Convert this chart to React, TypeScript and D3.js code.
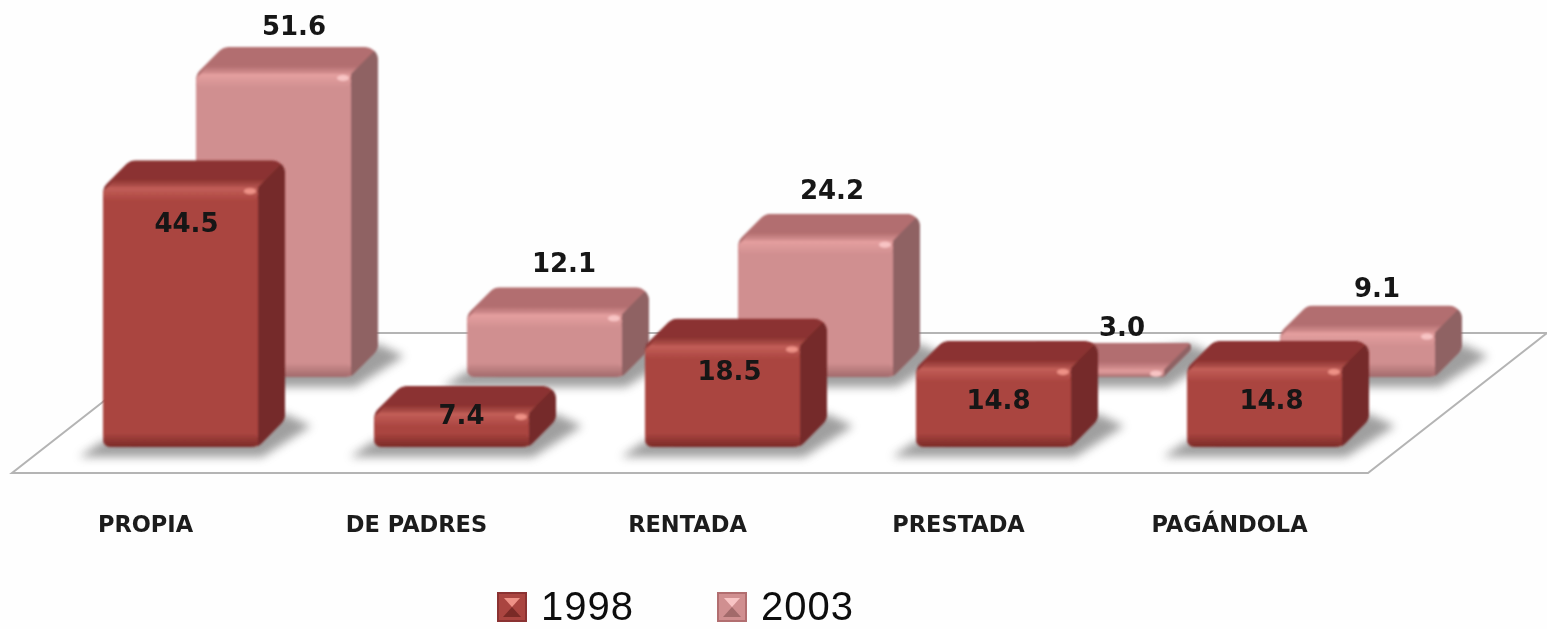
import React from 'react';
import * as d3 from 'd3';

// data
const categories = ['PROPIA', 'DE PADRES', 'RENTADA', 'PRESTADA', 'PAGÁNDOLA'];
const years = ['1998', '2003'];
const values1998 = [44.5, 7.4, 18.5, 14.8, 14.8];
const values2003 = [51.6, 12.1, 24.2, 3.0, 9.1];

// label nudges, the original places them by hand
const labelDx1998 = [6, 10, 7, 5, 7];
const labelDy1998 = [36, 2, 26, 32, 32];
const labelDx2003 = [7, 6, 3, 22, 6];
const labelDy2003 = [-21, -24, -24, -16, -18];

const W = 1547;
const H = 629;
const DEPTH = 27;
const BAR_W = 155;

const palette: Record<string, any> = {
  '1998': { front: '#aa4540', top: '#8b3330', side: '#742c2a', hi: '#c4605a', low: '#7a2a27', spec: '#ee9186' },
  '2003': { front: '#d08f90', top: '#b26e70', side: '#8f6263', hi: '#e6a0a0', low: '#a26a6b', spec: '#f8c4c4' },
};

const xScale = d3.scaleBand().domain(categories).range([45, 45 + 271 * 5]).paddingInner(0.428).paddingOuter(0.214);
const heightScale = d3.scaleLinear().domain([1.8, 51.6]).range([0, 303]);
const rowDx = d3.scaleOrdinal<string, number>().domain(years).range([0, 93]);
const rowBase = d3.scaleOrdinal<string, number>().domain(years).range([447, 377]);

function roundPoly(pts: number[][], r: number) {
  const p = d3.path();
  const n = pts.length;
  const s = [(pts[n - 1][0] + pts[0][0]) / 2, (pts[n - 1][1] + pts[0][1]) / 2];
  p.moveTo(s[0], s[1]);
  pts.forEach((pt, i) => {
    const nx = pts[(i + 1) % n];
    p.arcTo(pt[0], pt[1], nx[0], nx[1], r);
  });
  p.closePath();
  return p.toString();
}

const toPoints = (pts: number[][]) => pts.map((d) => d.join(',')).join(' ');

function Shadow({ cat, year }: any) {
  const x = xScale(cat)! + rowDx(year);
  const base = rowBase(year);
  const w = BAR_W;
  const pts = [
    [x - 24, base + 10],
    [x + w + 4, base + 10],
    [x + w + DEPTH + 26, base - DEPTH + 6],
    [x + w + DEPTH, base - DEPTH - 6],
    [x, base - 6],
  ];
  return <polygon points={toPoints(pts)} fill="#777" opacity={0.7} filter="url(#soft)" />;
}

function Bar({ cat, v, year, id }: any) {
  const c = palette[year];
  const x = xScale(cat)! + rowDx(year);
  const base = rowBase(year);
  const h = heightScale(v);
  const w = BAR_W;
  const top = base - h;
  const r = Math.min(13, Math.max(4, h / 2));
  const hull = roundPoly(
    [
      [x, top],
      [x + DEPTH, top - DEPTH],
      [x + w + DEPTH, top - DEPTH],
      [x + w + DEPTH, base - DEPTH],
      [x + w, base],
      [x, base],
    ],
    r,
  );
  const sideFace = [
    [x + w, top],
    [x + w + DEPTH, top - DEPTH],
    [x + w + DEPTH, base - DEPTH],
    [x + w, base],
  ];
  // lighter band where the top face rolls over into the front
  const roll = [
    [x + 2, top + 3],
    [x + 11, top - 8],
    [x + w + 11, top - 8],
    [x + w, top + 3],
  ];
  const strip = Math.min(14, h / 2);
  return (
    <g filter="url(#bevel)">
      <clipPath id={id}>
        <path d={hull} />
      </clipPath>
      <g clipPath={`url(#${id})`}>
        <path d={hull} fill={c.top} />
        <polygon points={toPoints(roll)} fill={`url(#top${year})`} />
        <polygon points={toPoints(sideFace)} fill={c.side} />
      </g>
      <rect x={x} y={top} width={w} height={h} rx={r} fill={c.front} />
      <rect x={x} y={top} width={w} height={strip} rx={Math.min(r, strip / 2)} fill={`url(#hi${year})`} />
      <rect x={x} y={base - strip} width={w} height={strip} rx={Math.min(r, strip / 2)} fill={`url(#low${year})`} />
      <ellipse cx={x + w - 8} cy={top + 4} rx={6} ry={3} fill={c.spec} />
    </g>
  );
}

export default function App() {
  const rows = [
    { year: '2003', values: values2003 },
    { year: '1998', values: values1998 },
  ];
  const valueStyle = { fontFamily: '"DejaVu Sans", sans-serif', fontWeight: 700, fontSize: 26, fill: '#151515' } as const;
  const bw = xScale.bandwidth();

  return (
    <svg
      width={W}
      height={H}
      viewBox={`0 0 ${W} ${H}`}
      style={{ position: 'absolute', left: 0, top: 0, background: '#fefefe' }}
    >
      <defs>
        <filter id="soft" x="-30%" y="-50%" width="160%" height="200%">
          <feGaussianBlur stdDeviation="5" />
        </filter>
        <filter id="bevel" x="-5%" y="-10%" width="110%" height="120%">
          <feGaussianBlur stdDeviation="1.3" />
        </filter>
        <filter id="paper" x="-2%" y="-2%" width="104%" height="104%">
          <feGaussianBlur stdDeviation="0.6" />
        </filter>
        {years.map((y) => (
          <React.Fragment key={y}>
            <linearGradient id={`top${y}`} x1="0" y1="0" x2="0" y2="1">
              <stop offset="0" stopColor={palette[y].top} />
              <stop offset="1" stopColor={palette[y].hi} />
            </linearGradient>
            <linearGradient id={`hi${y}`} x1="0" y1="0" x2="0" y2="1">
              <stop offset="0" stopColor={palette[y].hi} />
              <stop offset="1" stopColor={palette[y].front} />
            </linearGradient>
            <linearGradient id={`low${y}`} x1="0" y1="0" x2="0" y2="1">
              <stop offset="0" stopColor={palette[y].front} />
              <stop offset="1" stopColor={palette[y].low} />
            </linearGradient>
          </React.Fragment>
        ))}
      </defs>

      <g filter="url(#paper)">
        {/* floor */}
        <polygon points="12,473 1368,473 1547,333 191,333" fill="#ffffff" stroke="#b4b4b4" strokeWidth={2} />

        {rows.map((row) => (
          <g key={row.year}>
            {row.values.map((v, i) => (
              <Shadow key={categories[i]} cat={categories[i]} year={row.year} />
            ))}
            {row.values.map((v, i) => (
              <Bar key={categories[i]} id={`hull-${row.year}-${i}`} cat={categories[i]} v={v} year={row.year} />
            ))}
          </g>
        ))}

        {/* value labels */}
        {values2003.map((v, i) => {
          const c = categories[i];
          return (
            <text
              key={c}
              x={xScale(c)! + rowDx('2003') + bw / 2 + DEPTH / 2 + labelDx2003[i]}
              y={rowBase('2003') - heightScale(v) - DEPTH + labelDy2003[i]}
              textAnchor="middle"
              dominantBaseline="central"
              style={valueStyle}
            >
              {v.toFixed(1)}
            </text>
          );
        })}
        {values1998.map((v, i) => {
          const c = categories[i];
          return (
            <text
              key={c}
              x={xScale(c)! + bw / 2 + labelDx1998[i]}
              y={rowBase('1998') - heightScale(v) + labelDy1998[i]}
              textAnchor="middle"
              dominantBaseline="central"
              style={valueStyle}
            >
              {v.toFixed(1)}
            </text>
          );
        })}

        {/* category labels */}
        {categories.map((c) => (
          <text
            key={c}
            x={xScale(c)! + bw / 2 - 35}
            y={524}
            textAnchor="middle"
            dominantBaseline="central"
            style={{ fontFamily: '"DejaVu Sans", sans-serif', fontWeight: 700, fontSize: 22.5, fill: '#1a1a1a' }}
          >
            {c}
          </text>
        ))}

        {/* legend */}
        {years.map((y, i) => {
          const lx = 498 + i * 220;
          const ly = 593;
          const s = 28;
          const cx = lx + s / 2;
          const cy = ly + s / 2;
          return (
            <g key={y}>
              <rect x={lx} y={ly} width={s} height={s} fill={palette[y].front} stroke={palette[y].top} strokeWidth={2} />
              <polygon points={`${lx + 6},${ly + 5} ${lx + s - 6},${ly + 5} ${cx},${cy}`} fill={palette[y].spec} />
              <polygon points={`${lx + 5},${ly + s - 4} ${lx + s - 5},${ly + s - 4} ${cx},${cy}`} fill={palette[y].low} />
              <text
                x={lx + 43}
                y={620}
                style={{ fontFamily: '"Liberation Sans", sans-serif', fontSize: 40, letterSpacing: 1, fill: '#111' }}
              >
                {y}
              </text>
            </g>
          );
        })}
      </g>
    </svg>
  );
}
